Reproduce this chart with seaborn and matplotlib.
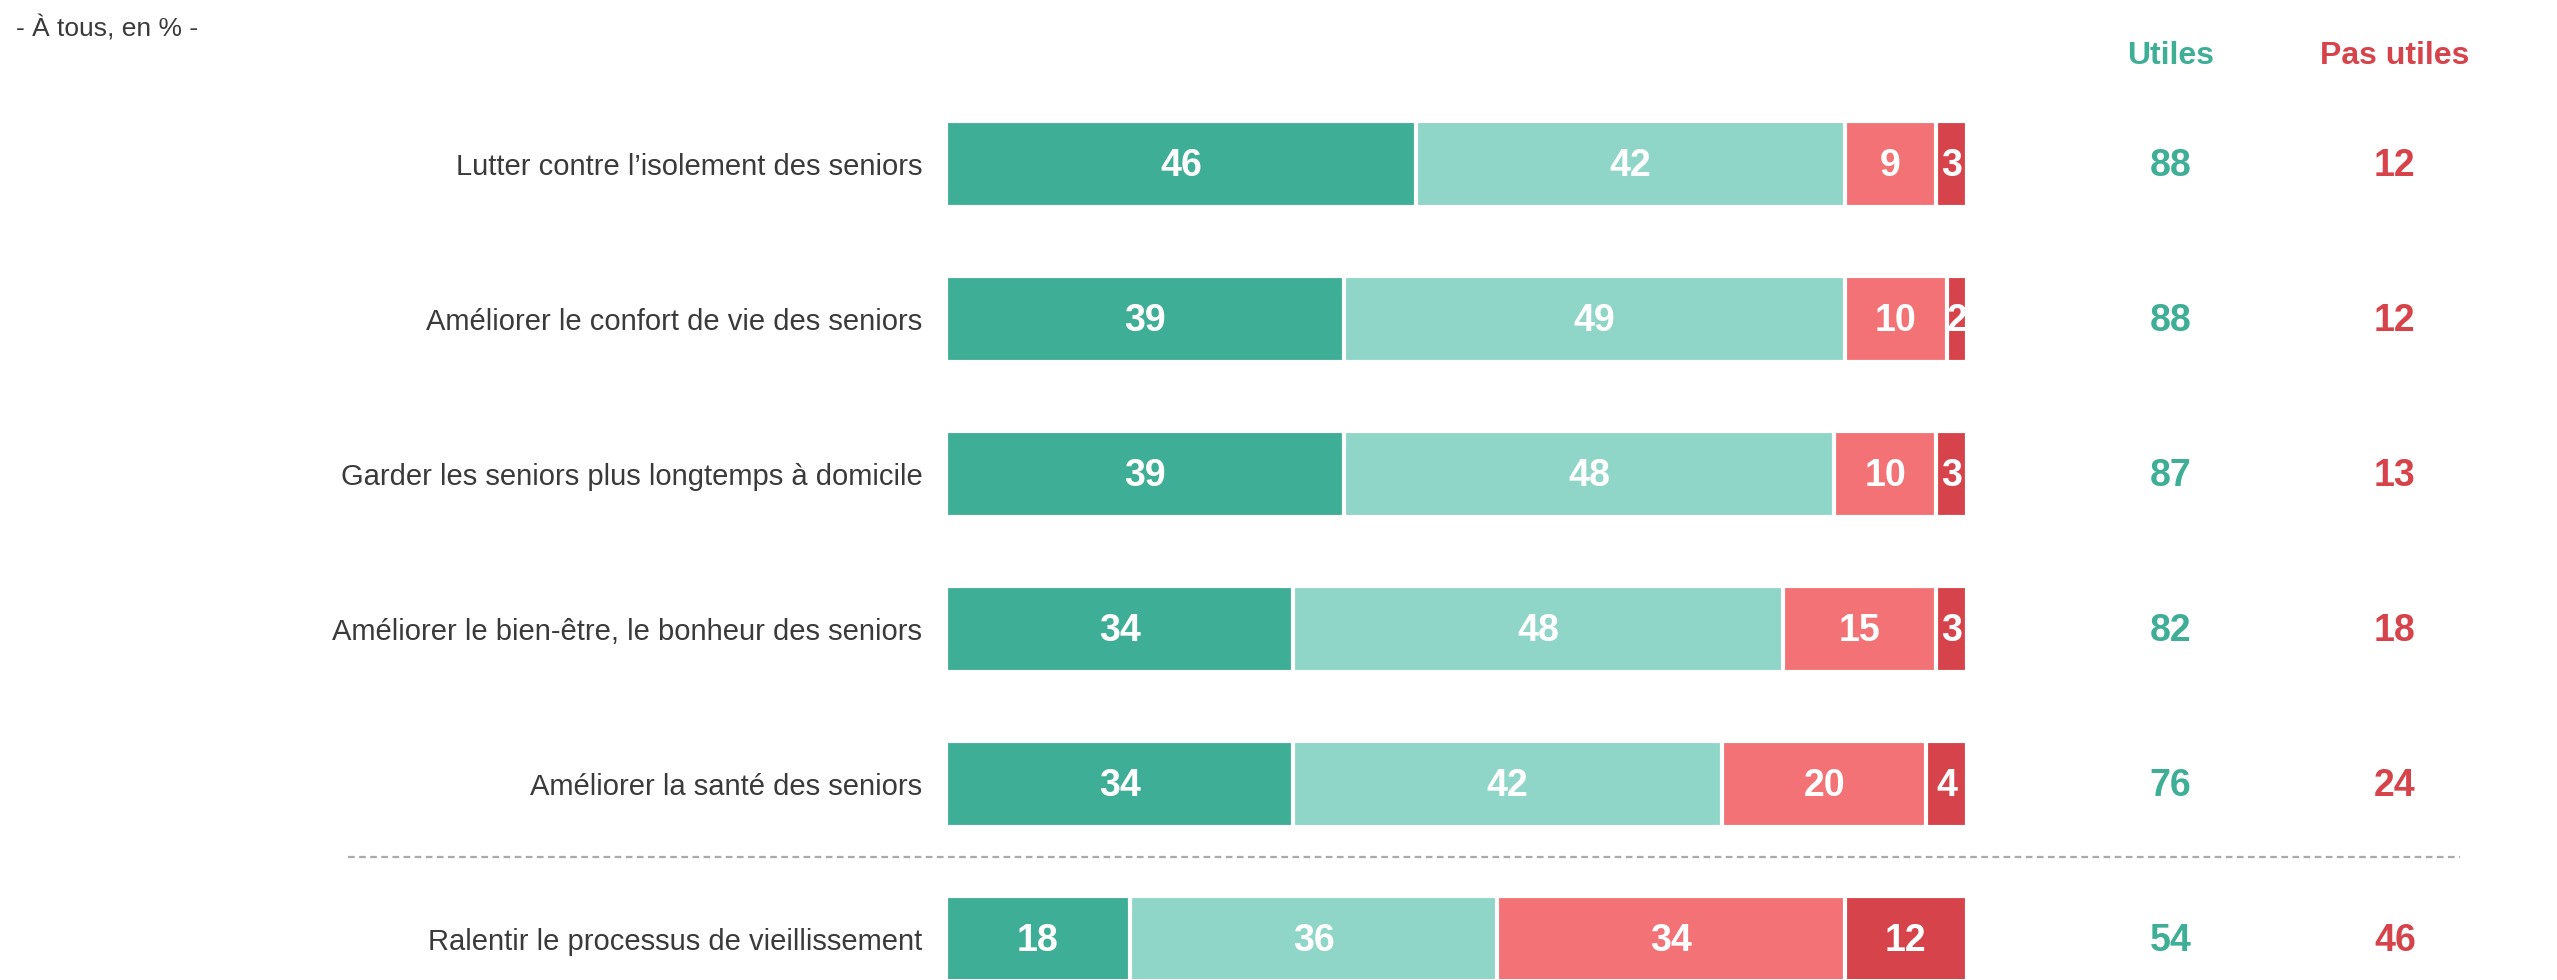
import matplotlib
matplotlib.use("Agg")
import matplotlib.pyplot as plt
import matplotlib.transforms as mtransforms
import numpy as np
import pandas as pd
import seaborn as sns

# donnees
items = ["Lutter contre l\u2019isolement des seniors",
         "Am\u00e9liorer le confort de vie des seniors",
         "Garder les seniors plus longtemps \u00e0 domicile",
         "Am\u00e9liorer le bien-\u00eatre, le bonheur des seniors",
         "Am\u00e9liorer la sant\u00e9 des seniors",
         "Ralentir le processus de vieillissement"]
tres_utile = [46, 39, 39, 34, 34, 18]
assez_utile = [42, 49, 48, 48, 42, 36]
peu_utile = [9, 10, 10, 15, 20, 34]
pas_du_tout = [3, 2, 3, 3, 4, 12]
utiles = [88, 88, 87, 82, 76, 54]
pas_utiles = [12, 12, 13, 18, 24, 46]

couleurs = ["#3EAE96", "#8FD6C8", "#F27275", "#D6434A"]
vert = "#3EAE96"
rouge = "#D6434A"

sns.set_style("white")
plt.rcParams['font.family'] = ['Liberation Sans', 'DejaVu Sans']

segments = [tres_utile, assez_utile, peu_utile, pas_du_tout]
cum = np.cumsum(np.array(segments), axis=0)

fig = plt.figure(figsize=(25.57, 9.8), dpi=100)
ax = fig.add_axes([0.37, 0.0007, 0.3993, 0.919])

# barres empilees: on dessine les cumuls du plus grand au plus petit
for i in range(3, -1, -1):
    df = pd.DataFrame({"item": items, "val": cum[i]})
    sns.barplot(data=df, x="val", y="item", color=couleurs[i], orient="h",
                width=0.55, edgecolor="white", linewidth=3, saturation=1,
                ax=ax)

for r in range(len(items)):
    left = 0
    for i in range(4):
        v = segments[i][r]
        ax.text(left + v / 2, r + 0.01, str(v), ha="center", va="center",
                color="white", fontsize=27, fontweight="bold")
        left += v

ax.set_xlim(0, 100)
ax.set_ylim(5.26, -0.55)
ax.set_xlabel("")
ax.set_ylabel("")
ax.set_xticks([])
ax.tick_params(axis="y", length=0, pad=17, labelsize=21, labelcolor="#3a3a3a")
sns.despine(ax=ax, left=True, bottom=True)

# ligne de separation
ax.plot([-58.6, 148.3], [4.47, 4.47], color="#AAAAAA", lw=1.6,
        linestyle=(0, (3, 2)), clip_on=False)

# colonnes Utiles / Pas utiles
for r in range(len(items)):
    ax.text(119.9, r + 0.01, str(utiles[r]), ha="center", va="center",
            color=vert, fontsize=27, fontweight="bold", clip_on=False)
    ax.text(141.9, r + 0.01, str(pas_utiles[r]), ha="center", va="center",
            color=rouge, fontsize=27, fontweight="bold", clip_on=False)

trans = mtransforms.blended_transform_factory(ax.transData, fig.transFigure)
ax.text(119.9, 1 - 56 / 980, "Utiles", transform=trans, ha="center",
        va="center", color=vert, fontsize=23, fontweight="bold")
ax.text(141.9, 1 - 56 / 980, "Pas utiles", transform=trans, ha="center",
        va="center", color=rouge, fontsize=23, fontweight="bold")

fig.text(16 / 2557, 1 - 29 / 980, "- \u00c0 tous, en % -", ha="left",
         va="center", fontsize=19, color="#3a3a3a")

fig.savefig("out.png", dpi=100)
